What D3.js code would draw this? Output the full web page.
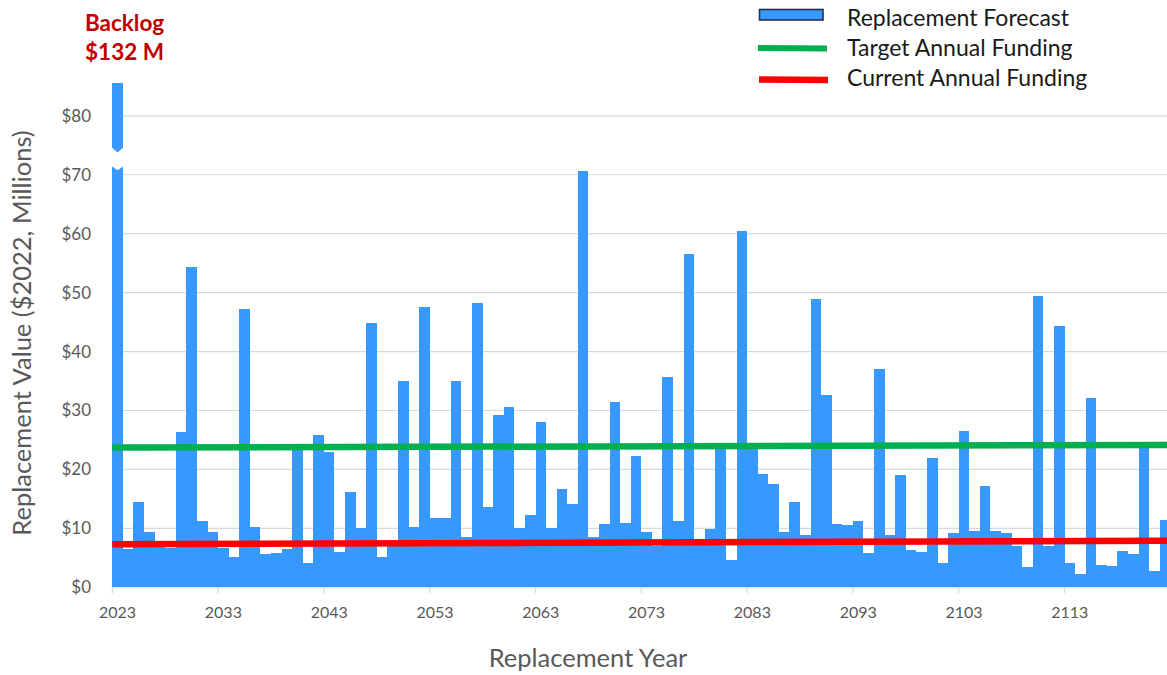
<!DOCTYPE html>
<html>
<head>
<meta charset="utf-8">
<script src="https://cdn.jsdelivr.net/npm/d3@7/dist/d3.min.js"></script>
<style>
  html, body { margin: 0; padding: 0; background: #ffffff; }
  svg { display: block; }
  text { font-family: Lato, "Open Sans", sans-serif; }
</style>
</head>
<body>
<svg id="chart" width="1167" height="675"></svg>
<script>
// ---------- DATA ----------
const years = d3.range(2023, 2123);           // replacement years (categories)
// Replacement forecast, $2022 millions (2023 bar is drawn broken; backlog $132 M)
const forecast = [
  85.5, 6.5, 14.4, 9.4, 6.8, 6.6, 26.3, 54.3, 11.3, 9.4,
  6.6, 5.1, 47.3, 10.2, 5.7, 5.8, 6.5, 23.4, 4.2, 25.8,
  23.0, 6.0, 16.1, 10.0, 44.9, 5.1, 7.0, 35.0, 10.2, 47.6,
  11.8, 11.7, 35.0, 8.5, 48.2, 13.7, 29.2, 30.6, 10.1, 12.2,
  28.1, 10.0, 16.6, 14.1, 70.7, 8.5, 10.7, 31.4, 10.9, 22.3,
  9.3, 7.0, 35.7, 11.3, 56.5, 7.2, 9.9, 23.6, 4.7, 60.4,
  23.6, 19.3, 17.6, 9.3, 14.5, 8.8, 49.0, 32.7, 10.7, 10.5,
  11.3, 5.8, 37.0, 8.9, 19.1, 6.4, 6.0, 22.0, 4.1, 9.2,
  26.5, 9.6, 17.2, 9.5, 9.2, 7.0, 3.5, 49.4, 7.0, 44.4,
  4.2, 2.3, 32.2, 3.8, 3.6, 6.1, 5.7, 23.9, 2.8, 11.5
];
const backlogLabel = ["Backlog", "$132 M"];
const targetFunding = [23.7, 24.15];   // start (2023) and end (2122)
const currentFunding = [7.3, 7.9];
const fundingYears = [2023, 2122];
const yTicks = [0, 10, 20, 30, 40, 50, 60, 70, 80];
const xTickLabels = ["2023","2033","2043","2053","2063","2073","2083","2093","2103","2113"];
const legendItems = ["Replacement Forecast", "Target Annual Funding", "Current Annual Funding"];
const breakValue = 72.8;  // where the first bar is drawn broken

// ---------- STYLE ----------
const blue = "#3799FD", green = "#00B050", red = "#FF0000";
const axisGray = "#595959", gridGray = "#D9D9D9";

const svg = d3.select("#chart");

const x = d3.scaleBand().domain(years).range([112.3, 1170.3]).padding(0);
const y = d3.scaleLinear().domain([0, 80]).range([587.3, 115.8]);

// gridlines
svg.append("g").selectAll("line").data(yTicks.filter(d => d > 0)).join("line")
  .attr("x1", 112).attr("x2", 1167)
  .attr("y1", d => y(d)).attr("y2", d => y(d))
  .attr("stroke", gridGray).attr("stroke-width", 1.2);

// y tick labels
svg.append("g").selectAll("text").data(yTicks).join("text")
  .attr("x", 91).attr("y", d => y(d))
  .attr("dy", "0.35em").attr("text-anchor", "end")
  .attr("font-size", 17).attr("fill", axisGray)
  .text(d => "$" + d);

// bars
svg.append("g").selectAll("rect").data(years).join("rect")
  .attr("x", d => x(d))
  .attr("width", x.bandwidth())
  .attr("y", (d, i) => y(forecast[i]))
  .attr("height", (d, i) => y(0) - y(forecast[i]))
  .attr("fill", blue)
  .attr("shape-rendering", "crispEdges");

// break on first bar
{
  const x0 = x(years[0]), x1 = x0 + x.bandwidth(), xc = (x0 + x1) / 2;
  const yb = y(breakValue);
  const pts = [[x0 - 1, yb - 11.3], [xc, yb - 5.7], [x1 + 1, yb - 11.3],
               [x1 + 1, yb + 7.7], [xc, yb + 12], [x0 - 1, yb + 7.7]];
  svg.append("polygon").attr("points", pts.map(p => p.join(",")).join(" "))
    .attr("fill", "#ffffff");
}

// x axis baseline + ticks
svg.append("line").attr("x1", 112).attr("x2", 1167)
  .attr("y1", y(0) + 0.5).attr("y2", y(0) + 0.5)
  .attr("stroke", gridGray).attr("stroke-width", 1);
svg.append("g").selectAll("line").data(xTickLabels).join("line")
  .attr("x1", d => x(+d)).attr("x2", d => x(+d))
  .attr("y1", y(0)).attr("y2", y(0) + 6)
  .attr("stroke", gridGray).attr("stroke-width", 1.2);
svg.append("g").selectAll("text").data(xTickLabels).join("text")
  .attr("x", d => x(+d) + x.bandwidth() / 2)
  .attr("y", 618).attr("text-anchor", "middle")
  .attr("font-size", 16).attr("fill", axisGray)
  .text(d => d);

// funding lines
const lineGen = d3.line().x(d => d[0]).y(d => y(d[1]));
function fundLine(vals, color) {
  const pts = [[x(fundingYears[0]), vals[0]],
               [x(fundingYears[1]) + x.bandwidth(), vals[1]]];
  svg.append("path").attr("d", lineGen(pts))
    .attr("fill", "none").attr("stroke", color).attr("stroke-width", 6.5);
}
fundLine(targetFunding, green);
fundLine(currentFunding, red);

// axis titles
svg.append("text").attr("x", 588).attr("y", 667)
  .attr("text-anchor", "middle").attr("font-size", 25.5).attr("fill", axisGray)
  .text("Replacement Year");
svg.append("text").attr("transform", "translate(31,333) rotate(-90)")
  .attr("text-anchor", "middle").attr("font-size", 25.5).attr("fill", axisGray)
  .text("Replacement Value ($2022, Millions)");

// backlog annotation
svg.append("g").selectAll("text").data(backlogLabel).join("text")
  .attr("x", 124.5).attr("y", (d, i) => 31 + i * 29)
  .attr("text-anchor", "middle").attr("font-size", 22.5).attr("font-weight", "bold")
  .attr("fill", "#C00000").text(d => d);

// legend
const lg = svg.append("g");
lg.append("rect").attr("x", 759.5).attr("y", 9.5).attr("width", 63.5).attr("height", 10.5)
  .attr("fill", blue).attr("stroke", "#1F2F55").attr("stroke-width", 1.6);
lg.append("line").attr("x1", 758).attr("x2", 827).attr("y1", 48).attr("y2", 48.5)
  .attr("stroke", green).attr("stroke-width", 6);
lg.append("line").attr("x1", 759).attr("x2", 828).attr("y1", 79.5).attr("y2", 80)
  .attr("stroke", red).attr("stroke-width", 6.5);
lg.selectAll("text").data(legendItems).join("text")
  .attr("x", 847).attr("y", (d, i) => 25.5 + i * 30)
  .attr("font-size", 23).attr("fill", "#1a1a1a")
  .text(d => d);
</script>
</body>
</html>
